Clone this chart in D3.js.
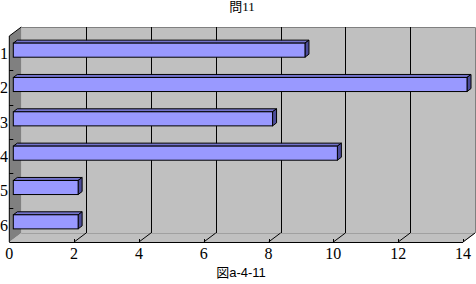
<!DOCTYPE html>
<html>
<head>
  <title>問11</title>
  <style>
    body { margin: 0; padding: 0; background: #ffffff; }
    svg { display: block; }
    .num { font-family: "Liberation Serif", "DejaVu Serif", serif; font-size: 16px; fill: #000; }
  </style>
</head>
<body>
  <div id="chartContainer"></div>
  <script src="https://d3js.org/d3.v7.min.js"></script>
  <script>
    // values
    const categories = ["1", "2", "3", "4", "5", "6"];
    const values = [9, 14, 8, 10, 2, 2];
    const xTicks = [0, 2, 4, 6, 8, 10, 12, 14];
    const title = "問11";
    const caption = "図a-4-11";

    const W = 476, H = 284;
    // 3d depth offset of the plot box
    const dx = 12, dy = 9;
    const pLeft = 9.3, pRight = 463, pTop = 36, pBottom = 242;

    const svg = d3.select("#chartContainer")
      .append("svg")
      .attr("width", W)
      .attr("height", H);

    const x = d3.scaleLinear().domain([0, 14]).range([pLeft, pRight]);
    const y = d3.scaleBand().domain(categories).range([pTop, pBottom])
      .paddingInner(0.59).paddingOuter(0.295);
    const yEdge = d3.scaleBand().domain(categories).range([pTop, pBottom]);

    // back wall
    svg.append("rect")
      .attr("x", pLeft + dx).attr("y", pTop - dy)
      .attr("width", pRight - pLeft).attr("height", pBottom - pTop)
      .attr("fill", "#c0c0c0");

    // floor
    svg.append("polygon")
      .attr("points", [[pLeft, pBottom], [pLeft + dx, pBottom - dy], [pRight + dx, pBottom - dy], [pRight, pBottom]].join(" "))
      .attr("fill", "#c0c0c0");
    svg.append("line")
      .attr("x1", pLeft + dx).attr("x2", pRight + dx)
      .attr("y1", pBottom - dy + 0.5).attr("y2", pBottom - dy + 0.5)
      .attr("stroke", "#a0a0a0");
    svg.append("line")
      .attr("x1", pRight).attr("y1", pBottom)
      .attr("x2", pRight + dx).attr("y2", pBottom - dy)
      .attr("stroke", "#a0a0a0");

    // side wall
    svg.append("polygon")
      .attr("points", [[pLeft, pTop], [pLeft + dx, pTop - dy], [pLeft + dx, pBottom - dy], [pLeft, pBottom]].join(" "))
      .attr("fill", "#808080");
    svg.append("line")
      .attr("x1", pLeft).attr("y1", pTop)
      .attr("x2", pLeft + dx).attr("y2", pTop - dy)
      .attr("stroke", "#000");

    // wall border
    svg.append("polyline")
      .attr("points", [[pLeft + dx, pTop - dy + 0.5], [pRight + dx + 0.5, pTop - dy + 0.5], [pRight + dx + 0.5, pBottom - dy]].join(" "))
      .attr("fill", "none")
      .attr("stroke", "#808080");

    // gridlines on back wall + floor
    const inner = xTicks.filter(d => d > 0 && d < 14);
    svg.selectAll(".grid")
      .data(inner)
      .enter()
      .append("line")
      .attr("x1", d => Math.round(x(d) + dx) + 0.5)
      .attr("x2", d => Math.round(x(d) + dx) + 0.5)
      .attr("y1", pTop - dy)
      .attr("y2", pBottom - dy)
      .attr("stroke", "#000");
    svg.selectAll(".floorgrid")
      .data(xTicks.filter(d => d > 0))
      .enter()
      .append("line")
      .attr("x1", d => x(d))
      .attr("y1", pBottom)
      .attr("x2", d => x(d) + dx)
      .attr("y2", pBottom - dy)
      .attr("stroke", "#000");
    svg.selectAll(".tick")
      .data(xTicks.filter(d => d > 0))
      .enter()
      .append("line")
      .attr("x1", d => Math.round(x(d)) + 0.5)
      .attr("x2", d => Math.round(x(d)) + 0.5)
      .attr("y1", pBottom - 3)
      .attr("y2", pBottom)
      .attr("stroke", "#000");

    // bars (front face offset into the depth by 1/3, back face at 2/3)
    const bx = dx / 3, by = dy / 3;
    const bars = svg.selectAll(".bar")
      .data(categories.map((c, i) => ({ c: c, v: values[i] })))
      .enter()
      .append("g");

    bars.append("polygon")
      .attr("points", d => {
        const x0 = x(0) + bx, x1 = x(d.v) + bx, y0 = y(d.c) - by;
        return [[x0, y0], [x0 + bx, y0 - by], [x1 + bx, y0 - by], [x1, y0]].join(" ");
      })
      .attr("fill", "#7373cc").attr("stroke", "#000").attr("stroke-width", 1);
    bars.append("polygon")
      .attr("points", d => {
        const x1 = x(d.v) + bx, y0 = y(d.c) - by, y1 = y0 + y.bandwidth();
        return [[x1, y0], [x1 + bx, y0 - by], [x1 + bx, y1 - by], [x1, y1]].join(" ");
      })
      .attr("fill", "#4c4c99").attr("stroke", "#000").attr("stroke-width", 1);
    bars.append("rect")
      .attr("x", x(0) + bx)
      .attr("y", d => y(d.c) - by)
      .attr("width", d => x(d.v) - x(0))
      .attr("height", y.bandwidth())
      .attr("fill", "#9999ff").attr("stroke", "#000").attr("stroke-width", 1);

    // axes lines
    svg.append("line")
      .attr("x1", pLeft).attr("x2", pRight)
      .attr("y1", pBottom + 0.5).attr("y2", pBottom + 0.5)
      .attr("stroke", "#000");
    svg.append("line")
      .attr("x1", pLeft).attr("x2", pLeft)
      .attr("y1", pTop).attr("y2", pBottom)
      .attr("stroke", "#000");
    svg.selectAll(".ytick")
      .data(categories.slice(1))
      .enter()
      .append("line")
      .attr("x1", pLeft).attr("x2", pLeft + 4)
      .attr("y1", d => Math.round(yEdge(d)) + 0.5)
      .attr("y2", d => Math.round(yEdge(d)) + 0.5)
      .attr("stroke", "#000");

    // labels
    svg.selectAll(".xlab")
      .data(xTicks)
      .enter()
      .append("text")
      .attr("class", "num")
      .attr("x", d => x(d))
      .attr("y", 259)
      .attr("text-anchor", "middle")
      .text(d => d);

    svg.selectAll(".ylab")
      .data(categories)
      .enter()
      .append("text")
      .attr("class", "num")
      .attr("x", 4)
      .attr("y", d => yEdge(d) + yEdge.bandwidth() / 2)
      .attr("dy", "0.36em")
      .attr("text-anchor", "middle")
      .text(d => d);

    svg.append("text")
      .attr("x", 242)
      .attr("y", 11)
      .attr("text-anchor", "middle")
      .style("font-family", "'Liberation Serif', 'Noto Sans CJK JP', serif")
      .style("font-size", "13px")
      .text(title);

    svg.append("text")
      .attr("x", 241)
      .attr("y", 277)
      .attr("text-anchor", "middle")
      .style("font-family", "'Liberation Sans', 'Noto Sans CJK JP', sans-serif")
      .style("font-size", "13px")
      .text(caption);
  </script>
</body>
</html>
